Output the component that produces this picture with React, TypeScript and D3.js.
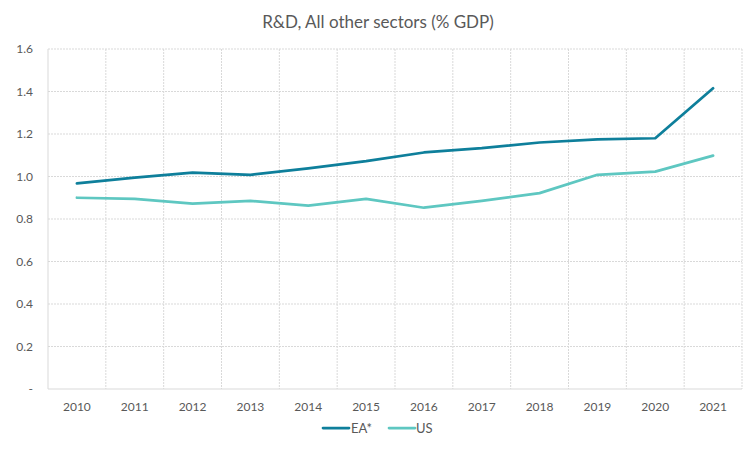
import React from "react";
import * as d3 from "d3";

const years = ["2010","2011","2012","2013","2014","2015","2016","2017","2018","2019","2020","2021"];
const eaValues = [0.968, 0.995, 1.018, 1.008, 1.038, 1.072, 1.113, 1.133, 1.160, 1.175, 1.180, 1.415];
const usValues = [0.900, 0.895, 0.872, 0.885, 0.863, 0.895, 0.853, 0.885, 0.922, 1.008, 1.023, 1.098];
const yTicks = [0, 0.2, 0.4, 0.6, 0.8, 1.0, 1.2, 1.4, 1.6];

const series = [
  { name: "EA*", values: eaValues, color: "#0E7F9B" },
  { name: "US", values: usValues, color: "#5EC7C1" },
];

const W = 756, H = 450;
const M = { left: 48, right: 14, top: 49, bottom: 61 };
const FONT = "Lato, 'Open Sans', sans-serif";
const TXT = "#595959";
const GRID = "#D9D9D9";

export default function App() {
  const x = d3.scaleBand().domain(years).range([M.left, W - M.right]);
  const y = d3.scaleLinear().domain([0, 1.6]).range([H - M.bottom, M.top]);
  const line = d3
    .line<number>()
    .x((_, i) => (x(years[i]) as number) + x.bandwidth() / 2)
    .y((d) => y(d));
  const bottom = H - M.bottom;
  const gridX = years.map((yr) => x(yr) as number).concat([W - M.right]);

  return (
    <svg width={W} height={H} style={{ position: "absolute", left: 0, top: 0, background: "#fff" }}>
      <text x={W / 2} y={28} textAnchor="middle" fontFamily={FONT} fontSize={17} fill={TXT}>
        R&amp;D, All other sectors (% GDP)
      </text>
      {yTicks.map((t) => (
        <g key={t}>
          <line x1={M.left} x2={W - M.right} y1={y(t)} y2={y(t)} stroke={GRID} strokeWidth={1} strokeDasharray={t === 0 ? undefined : "2,1"} />
          <text x={33} y={y(t) + 4} textAnchor="end" fontFamily={FONT} fontSize={12} fill={TXT}>
            {t === 0 ? "-" : t.toFixed(1)}
          </text>
        </g>
      ))}
      {gridX.map((gx, i) => (
        <line key={i} x1={gx} x2={gx} y1={M.top} y2={bottom} stroke={GRID} strokeWidth={1} strokeDasharray={i === 0 ? undefined : "2,1"} />
      ))}
      {years.map((yr) => (
        <text key={yr} x={(x(yr) as number) + x.bandwidth() / 2} y={bottom + 22} textAnchor="middle" fontFamily={FONT} fontSize={12} fill={TXT}>
          {yr}
        </text>
      ))}
      {series.map((s) => (
        <path key={s.name} d={line(s.values) || ""} fill="none" stroke={s.color} strokeWidth={2.75} strokeLinejoin="round" strokeLinecap="round" />
      ))}
      <g fontFamily={FONT} fontSize={13} fill={TXT}>
        <line x1={323} x2={349} y1={428} y2={428} stroke={series[0].color} strokeWidth={2.75} strokeLinecap="round" />
        <text x={351} y={433}>EA*</text>
        <line x1={389} x2={415} y1={428} y2={428} stroke={series[1].color} strokeWidth={2.75} strokeLinecap="round" />
        <text x={416} y={433}>US</text>
      </g>
    </svg>
  );
}
